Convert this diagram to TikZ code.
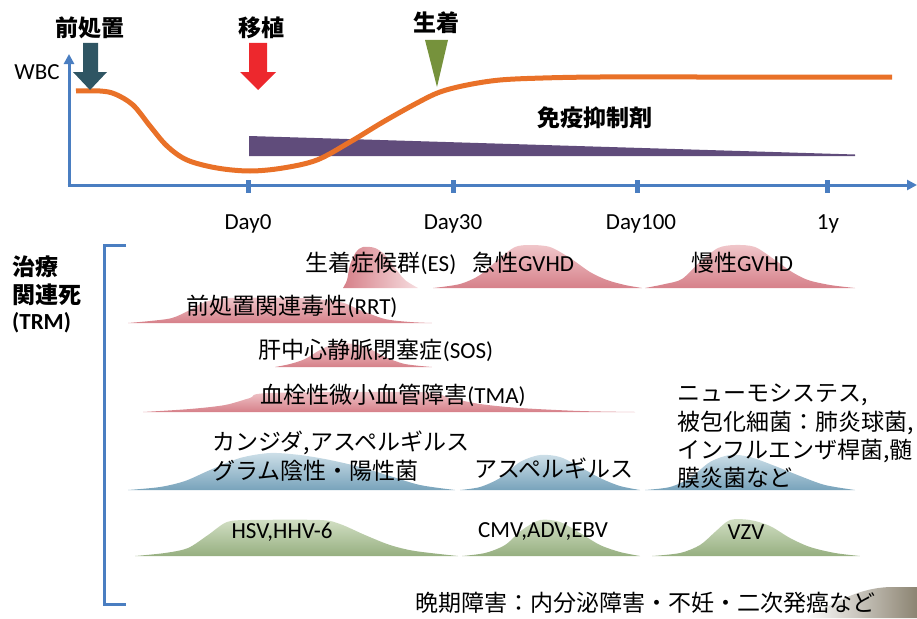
\documentclass[tikz,border=0pt]{standalone}
\usepackage{fontspec}
\setmainfont{Carlito}
\newfontfamily\jp{Noto Sans CJK JP}
\usetikzlibrary{arrows.meta}
\definecolor{axisblue}{RGB}{74,126,193}
\definecolor{wbcorange}{RGB}{233,113,40}
\definecolor{immpurple}{RGB}{96,76,123}
\definecolor{pretealc}{RGB}{47,85,99}
\definecolor{txred}{RGB}{237,40,45}
\definecolor{engreen}{RGB}{118,146,60}
\definecolor{pinkdark}{RGB}{214,128,137}
\definecolor{pinklight}{RGB}{240,198,202}
\definecolor{bluedark}{RGB}{120,163,187}
\definecolor{bluelight}{RGB}{205,223,232}
\definecolor{greendark}{RGB}{150,175,128}
\definecolor{greenlight}{RGB}{210,223,196}
\definecolor{latebrown}{RGB}{140,132,114}
\begin{document}
\begin{tikzpicture}[x=1pt,y=-1pt,
  lbl/.style={inner sep=0pt, font=\fontsize{23}{28}\selectfont},
  jlbl/.style={inner sep=0pt, font=\fontsize{23}{28}\selectfont\jp},
  blbl/.style={inner sep=0pt, font=\fontsize{23}{28}\selectfont\jp\bfseries},
  axisline/.style={draw=axisblue, line width=3pt},
  tickmark/.style={draw=axisblue, line width=5pt},
  pinkmtn/.style={top color=pinklight, bottom color=pinkdark},
  bluemtn/.style={top color=bluelight, bottom color=bluedark},
  greenmtn/.style={top color=greenlight, bottom color=greendark}]
\useasboundingbox (0,0) rectangle (917,618);

% ---------- axes ----------
\coordinate (O) at (69,185);
\coordinate (ytip) at (69,54);
\coordinate (xtip) at (917,185);
\draw[axisline, -{Triangle[length=10pt,width=10pt]}] (O) -- (ytip);
\draw[axisline, -{Triangle[length=10pt,width=10pt]}] ([xshift=-1.5pt]O) -- (xtip);
\foreach \x in {248,453,637,827} \draw[tickmark] (\x,180) -- (\x,193);

\node[lbl] (wbc) at (37,72) {WBC};
\node[lbl, anchor=base] (d0) at (248,229) {Day0};
\node[lbl, anchor=base] (d30) at (453,229) {Day30};
\node[lbl, anchor=base] (d100) at (641,229) {Day100};
\node[lbl, anchor=base] (y1) at (828,229) {1y};

% ---------- immunosuppressant wedge ----------
\fill[immpurple] (249,136) -- (855,154.5) -- (855,156) -- (249,156) -- cycle;
\node[blbl] (imm) at (595,118) {免疫抑制剤};

% ---------- WBC curve ----------
\draw[wbcorange, line width=5pt] plot[smooth, tension=0.55] coordinates {
 (76,91) (100,91) (115,94) (133,105) (150,126) (167,146) (187,160) (217,168)
 (250,171) (283,168) (317,160) (350,142) (383,122) (417,103) (440,92) (467,85)
 (500,80) (543,78) (600,77) (700,77) (892,77)};

% ---------- event markers ----------
\fill[pretealc] (83,43) -- (98,43) -- (98,72) -- (107,72) -- (90,90) -- (73,72) -- (83,72) -- cycle;
\fill[txred] (249,43) -- (267,43) -- (267,72) -- (276,72) -- (258,90) -- (240,72) -- (249,72) -- cycle;
\fill[engreen] (425,40) -- (448,40) -- (437,87) -- cycle;
\node[blbl] (pre) at (90,28) {前処置};
\node[blbl] (tx) at (261,28) {移植};
\node[blbl] (eng) at (436,23) {生着};

% ---------- bracket ----------
\draw[axisline] (126,245) -- (104,245) -- (104,604) -- (126,604);
\node[blbl, anchor=west] (trm1) at (12,267) {治療};
\node[blbl, anchor=west] (trm2) at (12,295) {関連死};
\node[inner sep=0pt, font=\fontsize{23}{28}\selectfont\bfseries, anchor=west] (trm3) at (12,323) {(TRM)};

% ---------- mountains ----------
\shade[left color=pinkdark, right color=pinklight!60] plot[smooth, tension=0.5] coordinates {
 (343,288) (347,280) (350,265) (356,252) (363,247) (375,248) (385,255) (395,268) (405,280) (418,288)} -- cycle;
\shade[pinkmtn] plot[smooth, tension=0.5] coordinates {
 (433,288) (460,284) (480,275) (500,258) (515,247) (530,245) (550,247) (570,258) (590,272) (607,280) (625,285) (642,288)} -- cycle;
\shade[pinkmtn] plot[smooth, tension=0.5] coordinates {
 (645,288) (665,284) (682,279) (700,262) (718,248) (735,245) (755,247) (775,260) (792,272) (808,280) (830,285) (855,288)} -- cycle;
\shade[pinkmtn] plot[smooth, tension=0.5] coordinates {
 (128,323) (150,321) (172,318) (190,310) (205,302) (230,298) (300,298) (340,302) (360,310) (385,319) (410,322) (432,323)} -- cycle;
\shade[pinkmtn] plot[smooth, tension=0.5] coordinates {
 (275,367) (290,364) (305,359) (320,350) (335,344) (355,344) (370,349) (385,357) (405,364) (432,367)} -- cycle;
\shade[pinkmtn] plot[smooth, tension=0.5] coordinates {
 (143,412) (190,409) (225,405) (250,398) (270,393) (420,392) (450,398) (480,404) (520,408) (580,411) (635,412)} -- cycle;

\shade[bluemtn] plot[smooth, tension=0.5] coordinates {
 (128,490) (160,487) (185,481) (210,470) (240,458) (270,453) (300,455) (330,460) (360,467) (390,476) (420,485) (455,490)} -- cycle;
\shade[bluemtn] plot[smooth, tension=0.5] coordinates {
 (460,490) (480,487) (500,478) (520,462) (540,455) (560,457) (580,467) (600,478) (620,486) (640,490)} -- cycle;
\shade[bluemtn] plot[smooth, tension=0.5] coordinates {
 (645,490) (670,487) (690,478) (710,462) (730,455) (750,457) (775,466) (800,476) (825,485) (855,490)} -- cycle;

\shade[greenmtn] plot[smooth, tension=0.5] coordinates {
 (135,556) (165,553) (188,548) (208,535) (227,522) (250,520) (320,520) (340,524) (365,535) (390,545) (415,551) (458,556)} -- cycle;
\shade[greenmtn] plot[smooth, tension=0.5] coordinates {
 (462,556) (485,553) (505,545) (522,530) (540,520) (560,522) (580,533) (600,545) (620,552) (640,556)} -- cycle;
\shade[greenmtn] plot[smooth, tension=0.5] coordinates {
 (652,556) (680,553) (700,545) (715,532) (730,520) (750,520) (770,526) (790,538) (810,547) (835,553) (860,556)} -- cycle;

\shade[left color=white, right color=latebrown] (805,618) .. controls (840,600) and (860,588) .. (890,587) -- (917,587) -- (917,618) -- cycle;

% ---------- labels ----------
\node[lbl] (es) at (381,263) {{\jp 生着症候群}(ES)};
\node[lbl] (agvhd) at (523,263) {{\jp 急性}GVHD};
\node[lbl] (cgvhd) at (742,263) {{\jp 慢性}GVHD};
\node[lbl] (rrt) at (292,306) {{\jp 前処置関連毒性}(RRT)};
\node[lbl] (sos) at (376,350) {{\jp 肝中心静脈閉塞症}(SOS)};
\node[lbl] (tma) at (393,395) {{\jp 血栓性微小血管障害}(TMA)};
\node[jlbl, anchor=west] (fung1) at (212,443) {カンジダ,アスペルギルス};
\node[jlbl, anchor=west] (fung2) at (212,471) {グラム陰性・陽性菌};
\node[jlbl] (asp) at (554,468) {アスペルギルス};
\node[jlbl, anchor=west] (bac1) at (677,395) {ニューモシステス,};
\node[jlbl, anchor=west] (bac2) at (677,423) {被包化細菌：肺炎球菌,};
\node[jlbl, anchor=west] (bac3) at (677,451) {インフルエンザ桿菌,髄};
\node[jlbl, anchor=west] (bac4) at (677,478) {膜炎菌など};
\node[lbl] (hsv) at (282,532) {HSV,HHV-6};
\node[lbl] (cmv) at (543,532) {CMV,ADV,EBV};
\node[lbl] (vzv) at (746,532) {VZV};
\node[jlbl, anchor=west] (late) at (415,603) {晩期障害：内分泌障害・不妊・二次発癌など};
\end{tikzpicture}
\end{document}
